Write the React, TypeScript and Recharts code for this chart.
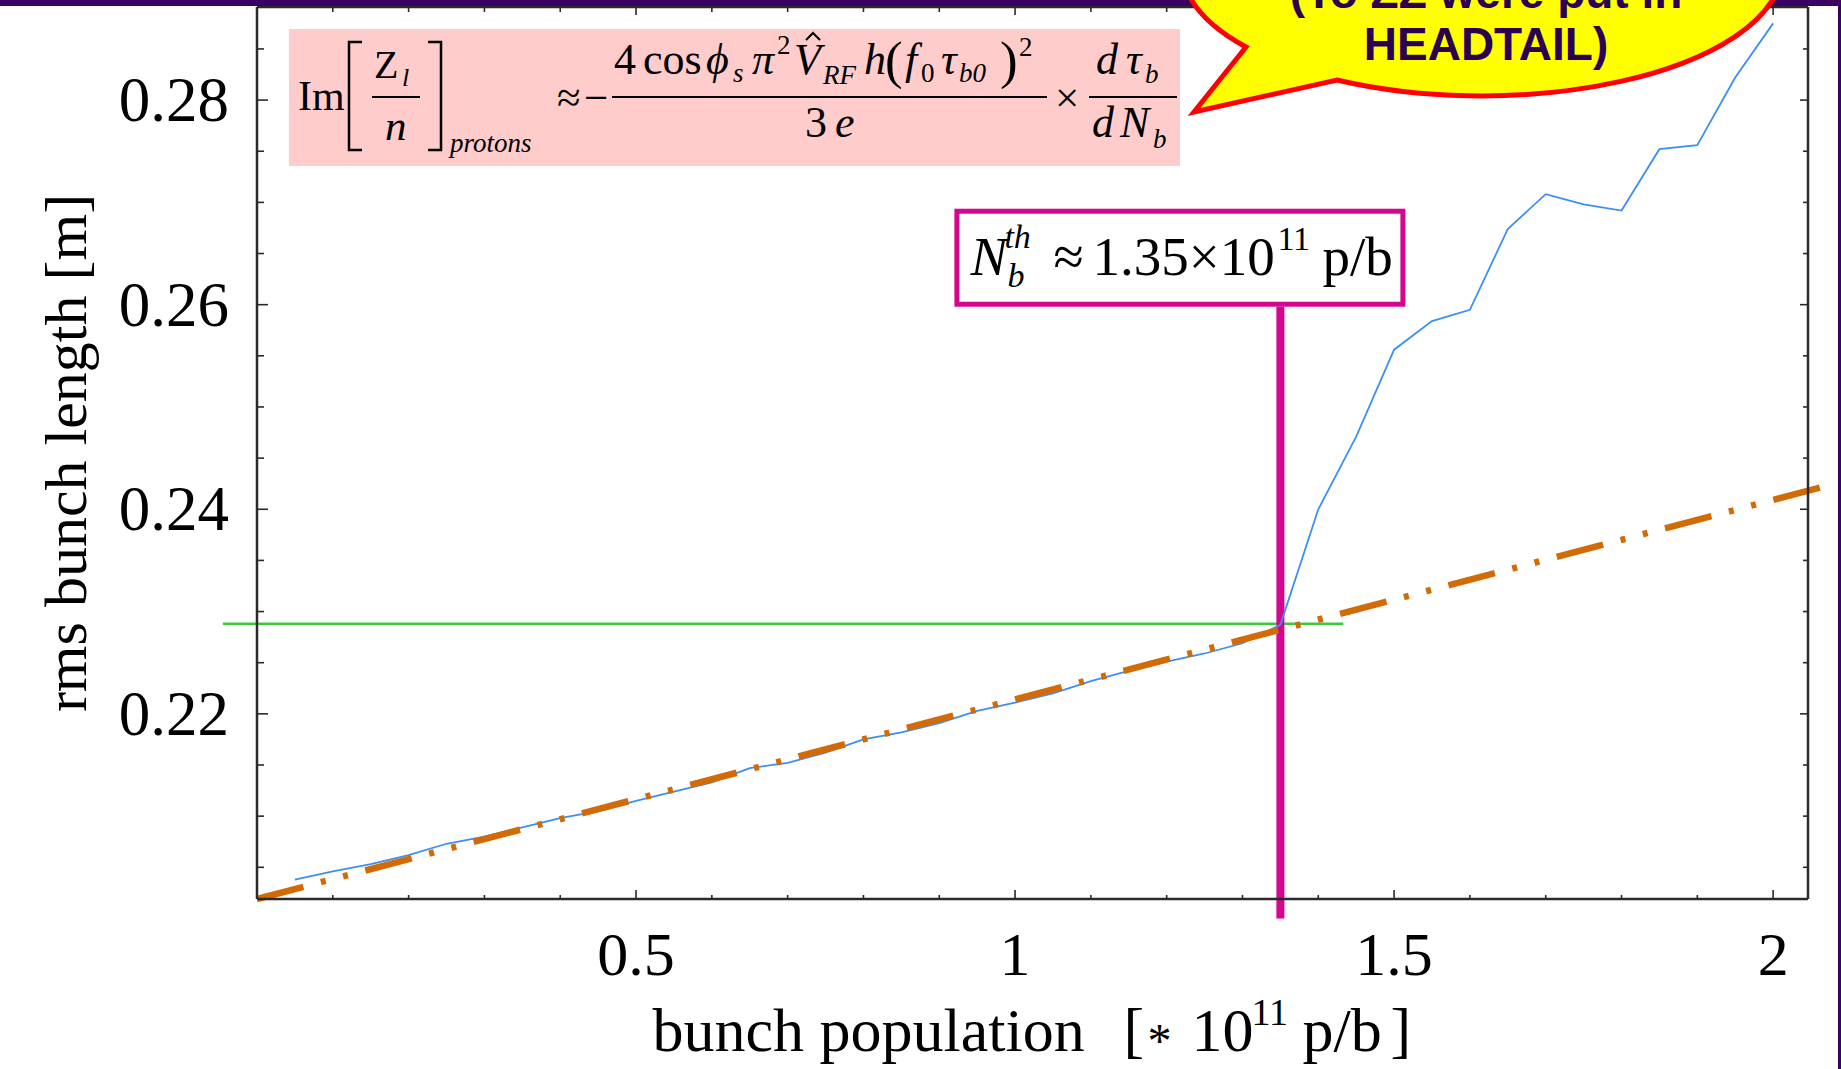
import React from 'react';
import { LineChart, Line, XAxis, YAxis, ReferenceLine } from 'recharts';

// HEADTAIL simulation: rms bunch length vs bunch population
const bunchPopulation = [
  0.05, 0.1, 0.15, 0.2, 0.25, 0.3, 0.35, 0.4, 0.45, 0.5,
  0.55, 0.6, 0.65, 0.7, 0.75, 0.8, 0.85, 0.9, 0.95, 1.0,
  1.05, 1.1, 1.15, 1.2, 1.25, 1.3, 1.35, 1.4, 1.45, 1.5,
  1.55, 1.6, 1.65, 1.7, 1.75, 1.8, 1.85, 1.9, 1.95, 2.0,
];
const rmsBunchLength = [
  0.2038, 0.2046, 0.2053, 0.2062, 0.2073, 0.208, 0.2089, 0.2098, 0.2105, 0.2115,
  0.2124, 0.2133, 0.2147, 0.2152, 0.2162, 0.2175, 0.2182, 0.2191, 0.2203, 0.2211,
  0.222, 0.2232, 0.2242, 0.2251, 0.2259, 0.2269, 0.2287, 0.24, 0.2471, 0.2556,
  0.2584, 0.2595, 0.2674, 0.2708, 0.2698, 0.2692, 0.2752, 0.2756, 0.2822, 0.2875,
];

// linear fit below threshold (end points)
const fitX = [0, 2.066];
const fitY = [0.2019, 0.2422];

// threshold markers
const thresholdN = 1.35;
const thresholdLength = 0.2288;
const thresholdLineX = [-0.045, 1.433];
const thresholdLineY = [0.2, 0.2598];

const xDomain = [0, 2.046];
const yDomain = [0.2019, 0.2891];
const xTicks = [0.1, 0.2, 0.3, 0.4, 0.5, 0.6, 0.7, 0.8, 0.9, 1, 1.1, 1.2, 1.3, 1.4, 1.5, 1.6, 1.7, 1.8, 1.9, 2];
const xTickLabels = [0.5, 1, 1.5, 2];
const yTicks = [0.205, 0.21, 0.215, 0.22, 0.225, 0.23, 0.235, 0.24, 0.245, 0.25, 0.255, 0.26, 0.265, 0.27, 0.275, 0.28, 0.285];
const yTickLabels = [0.22, 0.24, 0.26, 0.28];

const data = bunchPopulation.map((x, i) => ({ x, y: rmsBunchLength[i] }));

const SERIF = "'Liberation Serif', 'Times New Roman', serif";
const SANS = "'Liberation Sans', Arial, sans-serif";
const AXIS = '#2a2a2a';
const MAGENTA = '#d4068f';
const PURPLE = '#3a0062';

const isOneOf = (v: number, list: number[]) => list.some(t => Math.abs(t - v) < 1e-9);

const BottomTick = (props: any) => {
  const { x, y, payload } = props;
  const major = isOneOf(payload.value, xTickLabels);
  return (
    <g>
      <line x1={x} y1={y} x2={x} y2={y - (major ? 9 : 4)} stroke={AXIS} strokeWidth={1.6} />
      {major && (
        <text x={x} y={y + 76} textAnchor="middle" fontFamily={SERIF} fontSize={62} fill="#000">
          {String(payload.value)}
        </text>
      )}
    </g>
  );
};

const TopTick = (props: any) => {
  const { x, y, payload } = props;
  const major = isOneOf(payload.value, xTickLabels);
  return <line x1={x} y1={y} x2={x} y2={y + (major ? 8 : 5)} stroke={AXIS} strokeWidth={1.6} />;
};

const LeftTick = (props: any) => {
  const { x, y, payload } = props;
  const major = isOneOf(payload.value, yTickLabels);
  return (
    <g>
      <line x1={x} y1={y} x2={x + (major ? 11 : 7)} y2={y} stroke={AXIS} strokeWidth={1.6} />
      {major && (
        <text x={x - 28} y={y + 21} textAnchor="end" fontFamily={SERIF} fontSize={63} fill="#000">
          {String(payload.value)}
        </text>
      )}
    </g>
  );
};

const RightTick = (props: any) => {
  const { x, y, payload } = props;
  const major = isOneOf(payload.value, yTickLabels);
  return <line x1={x} y1={y} x2={x - (major ? 8 : 5)} y2={y} stroke={AXIS} strokeWidth={1.6} />;
};

const YTitle = (props: any) => {
  const vb = props.viewBox;
  const cx = vb.x + vb.width - 171;
  const cy = vb.y + vb.height / 2;
  return (
    <text x={cx} y={cy} transform={`rotate(-90 ${cx} ${cy})`} textAnchor="middle" fontFamily={SERIF} fontSize={60} fill="#000">
      rms bunch length [m]
    </text>
  );
};

const XTitle = (props: any) => {
  const vb = props.viewBox;
  const sx = vb.x + vb.width / 2 - 380;
  const by = vb.y + 152;
  return (
    <g fontFamily={SERIF} fill="#000">
      <text x={sx} y={by} fontSize={62}>bunch population</text>
      <text x={sx + 471} y={by} fontSize={62}>[</text>
      <text x={sx + 495} y={by + 6} fontSize={48}>*</text>
      <text x={sx + 539} y={by} fontSize={62}>10</text>
      <text x={sx + 599} y={by - 26} fontSize={38}>11</text>
      <text x={sx + 650} y={by} fontSize={62}>p/b</text>
      <text x={sx + 738} y={by} fontSize={62}>]</text>
    </g>
  );
};

const ThresholdBox = (props: any) => {
  const vb = props.viewBox;
  const L = vb.x - 326;
  const B = vb.y;
  return (
    <g fontFamily={SERIF} fill="#000">
      <rect x={L + 2.5} y={B - 95.5} width={446} height={93} fill="#fff" stroke={MAGENTA} strokeWidth={5} />
      <text x={L + 16} y={B - 32} fontSize={55} fontStyle="italic">N</text>
      <text x={L + 50} y={B - 59} fontSize={34} fontStyle="italic">th</text>
      <text x={L + 53} y={B - 20} fontSize={34} fontStyle="italic">b</text>
      <text x={L + 99} y={B - 32} fontSize={55}>≈</text>
      <text x={L + 138} y={B - 32} fontSize={55}>1.35×10</text>
      <text x={L + 323} y={B - 57} fontSize={34}>11</text>
      <text x={L + 368} y={B - 32} fontSize={55}>p/b</text>
    </g>
  );
};

const Formula = () => (
  <g fontFamily={SERIF} fill="#000">
    <rect x={289} y={29} width={891} height={137} fill="#ffcccc" />
    <text x={298} y={110} fontSize={42}>Im</text>
    <path d="M362 42 H349 V150 H362" fill="none" stroke="#000" strokeWidth={2.5} />
    <text x={374} y={78} fontSize={40}>Z</text>
    <text x={402} y={86} fontSize={26} fontStyle="italic">l</text>
    <line x1={372} y1={97} x2={420} y2={97} stroke="#000" strokeWidth={2} />
    <text x={385} y={140} fontSize={43} fontStyle="italic">n</text>
    <path d="M428 42 H441 V150 H428" fill="none" stroke="#000" strokeWidth={2.5} />
    <text x={450} y={152} fontSize={27} fontStyle="italic">protons</text>
    <text x={557} y={112} fontSize={43}>≈</text>
    <text x={584} y={112} fontSize={43}>−</text>
    {/* numerator */}
    <text x={614} y={74} fontSize={44}>4</text>
    <text x={643} y={74} fontSize={44}>cos</text>
    <text x={706} y={74} fontSize={44} fontStyle="italic">ϕ</text>
    <text x={733} y={82} fontSize={27} fontStyle="italic">s</text>
    <text x={752} y={74} fontSize={44} fontStyle="italic">π</text>
    <text x={777} y={54} fontSize={27}>2</text>
    <text x={794} y={74} fontSize={44} fontStyle="italic">V</text>
    <path d="M806 40 L813 33 L820 40" fill="none" stroke="#000" strokeWidth={2} />
    <text x={823} y={84} fontSize={27} fontStyle="italic">RF</text>
    <text x={864} y={74} fontSize={44} fontStyle="italic">h</text>
    <text x={885} y={78} fontSize={53}>(</text>
    <text x={905} y={74} fontSize={44} fontStyle="italic">f</text>
    <text x={921} y={82} fontSize={27}>0</text>
    <text x={941} y={74} fontSize={44} fontStyle="italic">τ</text>
    <text x={959} y={82} fontSize={27} fontStyle="italic">b0</text>
    <text x={1000} y={78} fontSize={53}>)</text>
    <text x={1019} y={56} fontSize={27}>2</text>
    <line x1={612} y1={97} x2={1047} y2={97} stroke="#000" strokeWidth={2} />
    {/* denominator */}
    <text x={805} y={137} fontSize={44}>3</text>
    <text x={835} y={137} fontSize={44} fontStyle="italic">e</text>
    <text x={1055} y={112} fontSize={43}>×</text>
    <text x={1096} y={74} fontSize={44} fontStyle="italic">d</text>
    <text x={1126} y={74} fontSize={44} fontStyle="italic">τ</text>
    <text x={1145} y={83} fontSize={27} fontStyle="italic">b</text>
    <line x1={1089} y1={97} x2={1177} y2={97} stroke="#000" strokeWidth={2} />
    <text x={1092} y={137} fontSize={44} fontStyle="italic">d</text>
    <text x={1120} y={137} fontSize={44} fontStyle="italic">N</text>
    <text x={1153} y={148} fontSize={27} fontStyle="italic">b</text>
  </g>
);

const Bubble = () => (
  <g>
    <path
      d="M1246 47 L1194 112 L1337 80 A300 128 0 1 0 1246 47 Z"
      fill="#ffff00"
      stroke="#ff0000"
      strokeWidth={5}
      strokeLinejoin="miter"
    />
    <g fontFamily={SANS} fontWeight="bold" fontSize={46} fill="#2c0050" textAnchor="middle">
      <text x={1486} y={8}>(To ZZ were put in</text>
      <text x={1486} y={60}>HEADTAIL)</text>
    </g>
  </g>
);

export default function App() {
  return (
    <div style={{ position: 'absolute', left: 0, top: 0, width: 1841, height: 1069, background: '#fff', overflow: 'hidden' }}>
      <div style={{ position: 'absolute', left: 0, top: 0 }}>
        <LineChart width={1841} height={1069} data={data} margin={{ top: 6, right: 32, bottom: 169, left: 256 }}>
          <XAxis
            dataKey="x"
            type="number"
            domain={xDomain}
            allowDataOverflow
            ticks={xTicks}
            interval={0}
            height={1}
            tickSize={0}
            tickMargin={0}
            tickLine={false}
            tick={<BottomTick />}
            axisLine={{ stroke: AXIS, strokeWidth: 2.5 }}
            label={(p: any) => <XTitle {...p} />}
          />
          <XAxis
            xAxisId="top"
            orientation="top"
            dataKey="x"
            type="number"
            domain={xDomain}
            allowDataOverflow
            ticks={xTicks}
            interval={0}
            height={1}
            tickSize={0}
            tickMargin={0}
            tickLine={false}
            tick={<TopTick />}
            axisLine={{ stroke: AXIS, strokeWidth: 2.5 }}
          />
          <YAxis
            dataKey="y"
            type="number"
            domain={yDomain}
            allowDataOverflow
            ticks={yTicks}
            interval={0}
            width={1}
            tickSize={0}
            tickMargin={0}
            tickLine={false}
            tick={<LeftTick />}
            axisLine={{ stroke: AXIS, strokeWidth: 2.5 }}
            label={(p: any) => <YTitle {...p} />}
          />
          <YAxis
            yAxisId="right"
            orientation="right"
            type="number"
            domain={yDomain}
            allowDataOverflow
            ticks={yTicks}
            interval={0}
            width={1}
            tickSize={0}
            tickMargin={0}
            tickLine={false}
            tick={<RightTick />}
            axisLine={{ stroke: AXIS, strokeWidth: 2.5 }}
          />
          <ReferenceLine
            segment={[{ x: thresholdLineX[0], y: thresholdLength }, { x: thresholdLineX[1], y: thresholdLength }]}
            stroke="#3ec83e"
            strokeWidth={2.5}
            ifOverflow="visible"
          />
          <ReferenceLine
            segment={[{ x: thresholdN, y: thresholdLineY[0] }, { x: thresholdN, y: thresholdLineY[1] }]}
            stroke={MAGENTA}
            strokeWidth={8}
            ifOverflow="visible"
            label={(p: any) => <ThresholdBox {...p} />}
          />
          <Line
            dataKey="y"
            type="linear"
            stroke="#3d8ef5"
            strokeWidth={1.8}
            dot={false}
            activeDot={false}
            isAnimationActive={false}
          />
          <ReferenceLine
            segment={[{ x: fitX[0], y: fitY[0] }, { x: fitX[1], y: fitY[1] }]}
            stroke="#d26a06"
            strokeWidth={6.5}
            strokeDasharray="48 18 5 18 5 18"
            ifOverflow="visible"
          />
        </LineChart>
      </div>
      <svg
        width={1841}
        height={1069}
        style={{ position: 'absolute', left: 0, top: 0, pointerEvents: 'none' }}
      >
        <rect x={0} y={0} width={1841} height={6} fill={PURPLE} />
        <rect x={1838} y={0} width={3} height={1069} fill={PURPLE} />
        <Formula />
        <Bubble />
      </svg>
    </div>
  );
}
